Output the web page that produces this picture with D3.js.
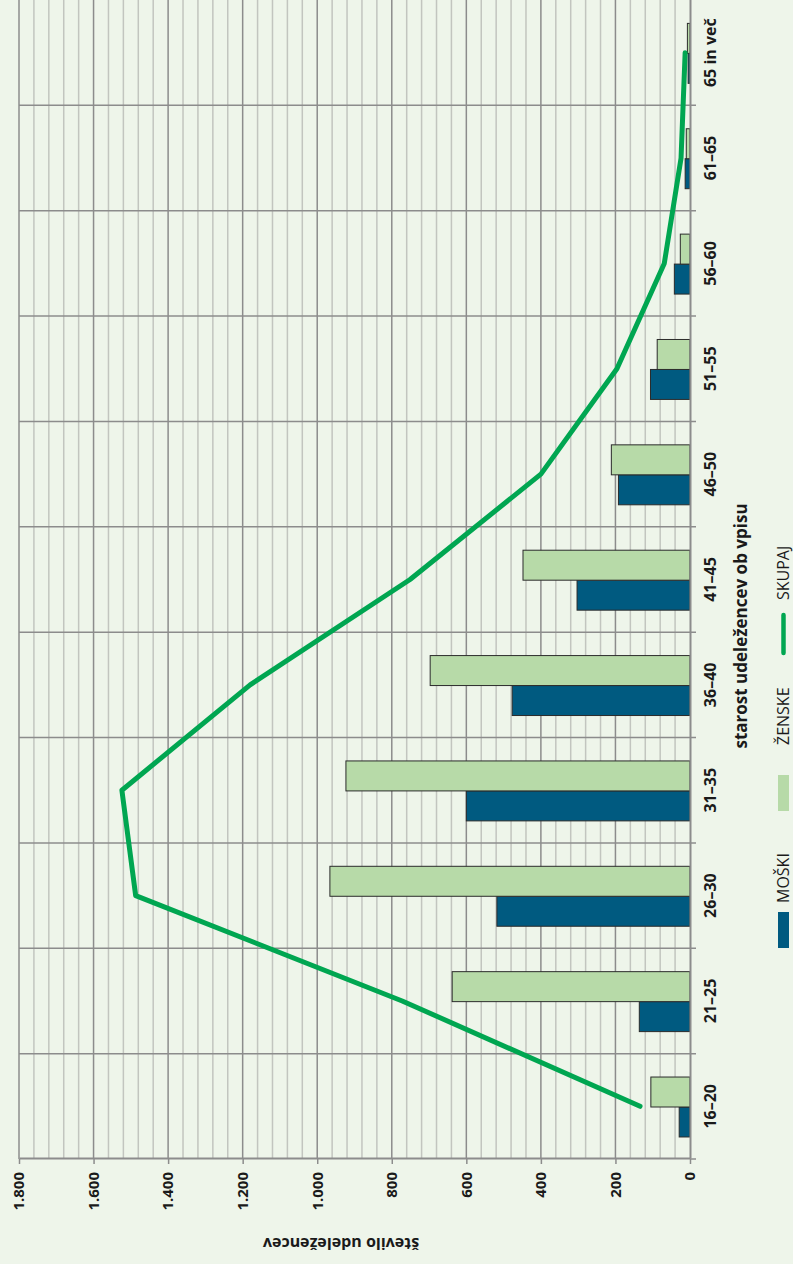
<!DOCTYPE html>
<html>
<meta charset="utf-8">
<script src="https://d3js.org/d3.v7.min.js"></script>
<style>
  body { margin: 0; background: #eef5ea; }
  svg { display: block; font-family: "Open Sans", sans-serif; }
</style>
<body>
<div id="vis"></div>
<script>
  // data
  var categories = ["16–20", "21–25", "26–30", "31–35", "36–40", "41–45",
                    "46–50", "51–55", "56–60", "61–65", "65 in več"];
  var moski  = [29, 136, 518, 600, 477, 303, 192, 106, 42, 13, 5];
  var zenske = [105, 638, 966, 923, 697, 448, 211, 88, 26, 10, 7];
  var skupaj = [134, 772, 1487, 1524, 1180, 751, 400, 196, 69, 24, 13];
  var valueTicks = [0, 200, 400, 600, 800, 1000, 1200, 1400, 1600, 1800];
  var seriesNames = ["MOŠKI", "ŽENSKE", "SKUPAJ"];

  var total_width = 793, total_height = 1264;
  var colMoski = "#005a80", colZenske = "#b7daa8", colSkupaj = "#00a651";
  var gridMajor = "#8c8c8c", gridMinor = "#c2c5bf";

  var svg = d3.select("#vis").append("svg")
    .attr("width", total_width)
    .attr("height", total_height);

  svg.append("rect").attr("width", total_width).attr("height", total_height).attr("fill", "#eef5ea");

  // the whole chart is a normal column chart turned 90deg counter-clockwise
  var g = svg.append("g")
    .attr("transform", "translate(0," + total_height + ") rotate(-90)");

  var x = d3.scaleBand().domain(categories).range([105, 1264]).padding(0);
  var bw = x.bandwidth();
  var sub = d3.scaleBand().domain(["m", "z"]).range([bw * 0.209, bw * 0.778]);
  var y = d3.scaleLinear().domain([0, 1800]).range([690, 19]);

  // minor grid every 40
  var minor = d3.range(40, 1801, 40).filter(function(v) { return v % 200 != 0; });
  g.append("g").selectAll("line").data(minor).enter().append("line")
    .attr("x1", 105).attr("x2", 1264)
    .attr("y1", function(d) { return y(d); }).attr("y2", function(d) { return y(d); })
    .attr("stroke", gridMinor).attr("stroke-width", 1.5);

  // major grid
  g.append("g").selectAll("line").data(valueTicks.slice(1)).enter().append("line")
    .attr("x1", 105).attr("x2", 1264)
    .attr("y1", function(d) { return y(d); }).attr("y2", function(d) { return y(d); })
    .attr("stroke", gridMajor).attr("stroke-width", 1.5);

  // category boundaries
  g.append("g").selectAll("line").data(categories.slice(1)).enter().append("line")
    .attr("x1", function(d) { return x(d); }).attr("x2", function(d) { return x(d); })
    .attr("y1", y(1800)).attr("y2", y(0) + 6)
    .attr("stroke", gridMajor).attr("stroke-width", 1.5);

  // bars
  var bars = g.append("g").selectAll("g").data(categories).enter().append("g")
    .attr("transform", function(d) { return "translate(" + x(d) + ",0)"; });
  bars.append("rect")
    .attr("x", sub("m")).attr("width", sub.bandwidth())
    .attr("y", function(d, i) { return y(moski[i]); })
    .attr("height", function(d, i) { return y(0) - y(moski[i]); })
    .attr("fill", colMoski).attr("stroke", "#2b2b2b").attr("stroke-width", 1);
  bars.append("rect")
    .attr("x", sub("z")).attr("width", sub.bandwidth())
    .attr("y", function(d, i) { return y(zenske[i]); })
    .attr("height", function(d, i) { return y(0) - y(zenske[i]); })
    .attr("fill", colZenske).attr("stroke", "#2b2b2b").attr("stroke-width", 1);

  // total line
  var line = d3.line()
    .x(function(d, i) { return x(categories[i]) + bw / 2; })
    .y(function(d) { return y(d); });
  g.append("path").datum(skupaj)
    .attr("d", line)
    .attr("fill", "none").attr("stroke", colSkupaj).attr("stroke-width", 5)
    .attr("stroke-linecap", "round").attr("stroke-linejoin", "round");

  // value axis
  var fmt = d3.formatLocale({decimal: ",", thousands: ".", grouping: [3], currency: ["", " €"]}).format(",d");
  var ya = g.append("g").attr("transform", "translate(105,0)")
    .call(d3.axisLeft(y).tickValues(valueTicks).tickFormat(fmt).tickSize(5).tickSizeOuter(0).tickPadding(8));
  ya.select(".domain").attr("stroke", gridMajor).attr("stroke-width", 2);
  ya.selectAll(".tick line").attr("stroke", gridMajor).attr("stroke-width", 1.5);
  ya.selectAll("text").attr("font-size", 15).attr("font-weight", "bold").attr("fill", "#1a1a1a")
    .attr("font-family", "Open Sans");

  // category axis
  var xa = g.append("g").attr("transform", "translate(0," + y(0) + ")")
    .call(d3.axisBottom(x).tickSize(0).tickPadding(15));
  xa.select(".domain").attr("stroke", gridMajor).attr("stroke-width", 2);
  xa.selectAll("text").attr("font-size", 16).attr("font-weight", "bold").attr("fill", "#1a1a1a")
    .attr("font-family", "Open Sans");
  g.append("line").attr("x1", 105).attr("x2", 105).attr("y1", y(0)).attr("y2", y(0) + 6)
    .attr("stroke", gridMajor).attr("stroke-width", 1.5);

  // axis titles
  g.append("text")
    .attr("transform", "translate(26,341) rotate(-90)")
    .attr("text-anchor", "middle")
    .attr("font-size", 16).attr("font-weight", "bold").attr("fill", "#1a1a1a")
    .text("število udeležencev");
  g.append("text")
    .attr("x", 638).attr("y", 747)
    .attr("text-anchor", "middle")
    .attr("font-size", 17).attr("font-weight", "bold").attr("fill", "#1a1a1a")
    .text("starost udeležencev ob vpisu");

  // legend
  var leg = g.append("g").attr("font-size", 16).attr("fill", "#1a1a1a");
  leg.append("rect").attr("x", 316).attr("y", 778).attr("width", 36).attr("height", 11).attr("fill", colMoski);
  leg.append("text").attr("x", 361).attr("y", 789).text(seriesNames[0]);
  leg.append("rect").attr("x", 453).attr("y", 778).attr("width", 36).attr("height", 11).attr("fill", colZenske);
  leg.append("text").attr("x", 519).attr("y", 789).text(seriesNames[1]);
  leg.append("line").attr("x1", 611).attr("x2", 649).attr("y1", 783.5).attr("y2", 783.5)
    .attr("stroke", colSkupaj).attr("stroke-width", 4.5).attr("stroke-linecap", "round");
  leg.append("text").attr("x", 664).attr("y", 789).text(seriesNames[2]);
</script>
</body>
</html>
